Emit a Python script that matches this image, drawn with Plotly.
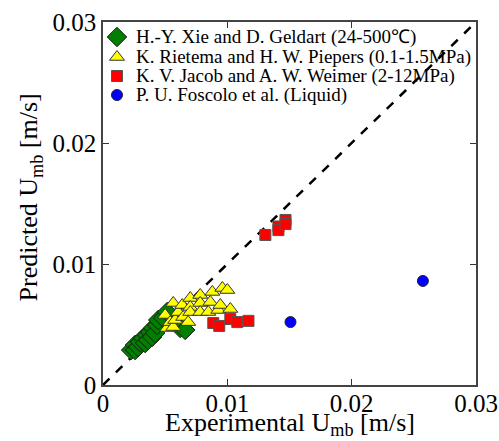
import plotly.graph_objects as go

# Experimental vs predicted minimum bubbling velocity [m/s]
xie_exp = [0.00226, 0.00258, 0.00258, 0.00282, 0.00298, 0.00323, 0.00339, 0.00355,
           0.00363, 0.00379, 0.00395, 0.00403, 0.00419, 0.00435, 0.00444, 0.00484,
           0.00516, 0.00621, 0.00661]
xie_pred = [0.00289, 0.00331, 0.00289, 0.00314, 0.00355, 0.00388, 0.00347, 0.00413,
            0.00372, 0.00438, 0.00397, 0.00471, 0.00430, 0.00496, 0.00537, 0.00554,
            0.00603, 0.00471, 0.00455]

rietema_exp = [0.00500, 0.00516, 0.00540, 0.00565, 0.00565, 0.00580, 0.00605, 0.00637,
               0.00645, 0.00685, 0.00702, 0.00702, 0.00702, 0.00782, 0.00782, 0.00782,
               0.00847, 0.00863, 0.00879, 0.00927, 0.00944, 0.00960, 0.01000, 0.01024]
rietema_pred = [0.00579, 0.00471, 0.00520, 0.00678, 0.00479, 0.00537, 0.00603, 0.00661,
                0.00562, 0.00520, 0.00719, 0.00645, 0.00603, 0.00744, 0.00678, 0.00603,
                0.00603, 0.00686, 0.00769, 0.00620, 0.00661, 0.00802, 0.00785, 0.00628]

jacob_exp = [0.00887, 0.00935, 0.01024, 0.01080, 0.01170, 0.01306, 0.01411, 0.01411,
             0.01468, 0.01468]
jacob_pred = [0.00512, 0.00488, 0.00545, 0.00520, 0.00530, 0.01240, 0.01310, 0.01280,
              0.01364, 0.01330]

foscolo_exp = [0.01508, 0.02573]
foscolo_pred = [0.00520, 0.00860]

parity = [0.0, 0.03]
tick_vals = [0, 0.01, 0.02, 0.03]
tick_text = ["0", "0.01", "0.02", "0.03"]

series_names = [
    "H.-Y. Xie and D. Geldart (24-500℃)",
    "K. Rietema and H. W. Piepers (0.1-1.5MPa)",
    "K. V. Jacob and A. W. Weimer (2-12MPa)",
    "P. U. Foscolo et al. (Liquid)",
]
x_title = "Experimental U<sub>mb</sub> [m/s]"
y_title = "Predicted U<sub>mb</sub> [m/s]"

serif = "Liberation Serif"

styles = [
    dict(symbol="diamond", size=15, color="#007F00", line=dict(color="#1a1a1a", width=1)),
    dict(symbol="triangle-up", size=13, color="#FFFF00", line=dict(color="#333333", width=1)),
    dict(symbol="square", size=11, color="#FF0000", line=dict(color="#555555", width=1)),
    dict(symbol="circle", size=11, color="#0000FF", line=dict(color="#222222", width=1)),
]
series = [(xie_exp, xie_pred), (rietema_exp, rietema_pred),
          (jacob_exp, jacob_pred), (foscolo_exp, foscolo_pred)]

fig = go.Figure()

# 1:1 parity line
fig.add_trace(go.Scatter(
    x=parity, y=parity, mode="lines", showlegend=False,
    line=dict(color="black", width=2.5, dash="dash"), hoverinfo="skip"))

for (xs, ys), name, st in zip(series, series_names, styles):
    fig.add_trace(go.Scatter(x=xs, y=ys, mode="markers", name=name,
                             marker=st, showlegend=False))

# Compact legend in the upper-left corner (drawn on a hidden 0-1 overlay axis)
legend_sym_x = 0.0375
legend_txt_x = 0.083
legend_rows = [0.9587, 0.9036, 0.8512, 0.7989]
for name, st, ry in zip(series_names, styles, legend_rows):
    fig.add_trace(go.Scatter(x=[legend_sym_x], y=[ry], mode="markers",
                             marker=st, xaxis="x2", yaxis="y2",
                             showlegend=False, hoverinfo="skip"))
    fig.add_annotation(x=legend_txt_x, y=ry, xref="paper", yref="paper",
                       text=name, showarrow=False, xanchor="left", yanchor="middle",
                       font=dict(family=serif, size=19, color="black"))

# Axis titles, placed just outside the plotting area
fig.add_annotation(x=0.5, y=-0.1543, xref="paper", yref="paper", text=x_title,
                   showarrow=False, xanchor="center", yanchor="bottom",
                   borderpad=0,
                   font=dict(family=serif, size=26, color="black"))
fig.add_annotation(x=-0.196, y=0.5165, xref="paper", yref="paper", text=y_title,
                   showarrow=False, textangle=-90, xanchor="center", yanchor="middle",
                   font=dict(family=serif, size=26, color="black"))

axis_common = dict(
    range=[0, 0.03], tickvals=tick_vals, ticktext=tick_text,
    ticks="inside", ticklen=6, tickwidth=1, tickcolor="#333333",
    showline=True, linecolor="#444444", linewidth=1.5, mirror="ticks",
    showgrid=False, zeroline=False, automargin=False,
    tickfont=dict(family=serif, size=25, color="black"),
)

fig.update_layout(
    width=499, height=441,
    margin=dict(l=103, r=23, t=22, b=56, autoexpand=False),
    paper_bgcolor="white", plot_bgcolor="white",
    font=dict(family=serif, color="black"),
    showlegend=False,
    xaxis=dict(**axis_common, ticklabelstandoff=-5),
    yaxis=dict(**axis_common),
    xaxis2=dict(overlaying="x", range=[0, 1], visible=False, fixedrange=True),
    yaxis2=dict(overlaying="y", range=[0, 1], visible=False, fixedrange=True),
)

fig.write_html("out.html")
